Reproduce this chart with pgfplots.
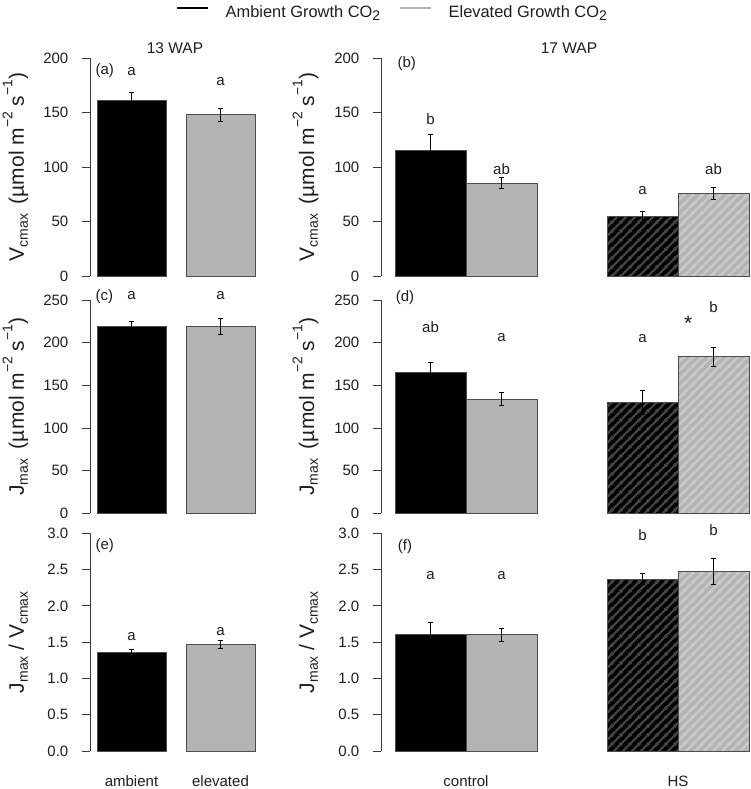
\documentclass[border=0pt]{standalone}
\usepackage{fontspec}
\setmainfont{Liberation Sans}
\usepackage{pgfplots}
\pgfplotsset{compat=1.18}
\usetikzlibrary{patterns}

\definecolor{bargray}{HTML}{B3B3B3}
\definecolor{edge}{HTML}{4D4D4D}
\definecolor{axcol}{HTML}{3A3A3A}
\definecolor{txt}{HTML}{1E1E1E}
\definecolor{hatchdark}{HTML}{424242}
\definecolor{hatchlight}{HTML}{C9C9C9}

\pgfdeclarepatternformonly{hatch}{\pgfqpoint{0pt}{0pt}}{\pgfqpoint{9pt}{9pt}}{\pgfqpoint{9pt}{9pt}}{%
  \pgfsetlinewidth{2.5pt}%
  \pgfpathmoveto{\pgfqpoint{-1pt}{-1pt}}\pgfpathlineto{\pgfqpoint{10pt}{10pt}}%
  \pgfpathmoveto{\pgfqpoint{-1.5pt}{7.5pt}}\pgfpathlineto{\pgfqpoint{1.5pt}{10.5pt}}%
  \pgfpathmoveto{\pgfqpoint{7.5pt}{-1.5pt}}\pgfpathlineto{\pgfqpoint{10.5pt}{1.5pt}}%
  \pgfusepath{stroke}}

\newcommand{\fs}[1]{\fontsize{#1}{#1}\selectfont}
\newcommand{\lsub}[1]{\raisebox{-0.35ex}{\fs{14}#1}}
\newcommand{\lsup}[1]{\raisebox{1.05ex}{\fs{14}#1}}

\tikzset{lab/.style={font=\fs{15}, text=txt}}

\pgfplotsset{
  panel/.style={
    scale only axis, anchor=south west, clip=false,
    axis x line=none, axis y line=left,
    axis line style={axcol, line width=0.8pt, -},
    tick align=outside, major tick length=8.5pt,
    ytick style={axcol, line width=0.8pt},
    yticklabel style={font=\fs{15}, text=txt, inner sep=0pt, xshift=-13pt},
    /pgf/number format/assume math mode=true,
    ymin=0,
  },
  bk/.style={ybar, /pgf/bar shift=0pt, fill=black, draw=edge, line width=0.8pt},
  gy/.style={ybar, /pgf/bar shift=0pt, fill=bargray, draw=edge, line width=0.8pt},
  bkh/.style={bk, postaction={pattern=hatch, pattern color=hatchdark}},
  gyh/.style={gy, postaction={pattern=hatch, pattern color=hatchlight}},
  err/.style={draw=none, mark=none, forget plot,
    error bars/.cd, y dir=both, y explicit,
    error bar style={draw=black, line width=0.9pt},
    error mark options={rotate=90, draw=black, line width=0.9pt, mark size=2.5pt}},
}

\begin{document}
\begin{tikzpicture}
\useasboundingbox (0pt,0pt) rectangle (750pt,789pt);

% ---------------- (a)
\begin{axis}[panel, at={(90pt,513pt)}, width=165pt, height=218pt,
  xmin=90, xmax=255, ymax=200, ytick={0,50,100,150,200}, bar width=69,
  legend style={at={(1.8273,1.2087)}, anchor=center, draw=none, fill=none,
    font=\fs{16.4}, text=txt, inner sep=0pt,
    /tikz/every odd column/.append style={column sep=16pt},
    /tikz/every even column/.append style={column sep=19pt},
    nodes={inner sep=0pt}},
  legend columns=2]
\addplot[bk, forget plot] coordinates {(131.5,161.5)};
\addplot[gy, forget plot] coordinates {(220.5,148)};
\addplot[err] coordinates {(131.5,161.5) +- (0,6.5) (220.5,148) +- (0,6)};
\addlegendimage{legend image code/.code={\draw[black, line width=2.5pt] (0pt,4.5pt) -- (31pt,4.5pt);}}
\addlegendentry{Ambient Growth CO\lsub{2}}
\addlegendimage{legend image code/.code={\draw[bargray, line width=2.5pt] (0pt,4.5pt) -- (31pt,4.5pt);}}
\addlegendentry{Elevated Growth CO\lsub{2}}
\node[lab, anchor=west] at (axis cs:92,188) {(a)};
\node[lab] at (axis cs:131.5,188) {a};
\node[lab] at (axis cs:220.5,178.5) {a};
\end{axis}

% ---------------- (b)
\begin{axis}[panel, at={(381pt,513pt)}, width=368pt, height=218pt,
  xmin=381, xmax=749, ymax=200, ytick={0,50,100,150,200}, bar width=71]
\addplot[bk] coordinates {(430.5,115)};
\addplot[gy] coordinates {(501.5,85)};
\addplot[bkh] coordinates {(642.5,54.5)};
\addplot[gyh] coordinates {(713.5,76)};
\addplot[err] coordinates {(430.5,115) +- (0,15) (501.5,85) +- (0,5) (642.5,54.5) +- (0,5) (713.5,76) +- (0,5.5)};
\node[lab, anchor=west] at (axis cs:394,195) {(b)};
\node[lab] at (axis cs:430.5,143.8) {b};
\node[lab] at (axis cs:501.5,97.7) {ab};
\node[lab] at (axis cs:642.5,78.6) {a};
\node[lab] at (axis cs:713.5,97.7) {ab};
\end{axis}

% ---------------- (c)
\begin{axis}[panel, at={(90pt,275.7pt)}, width=165pt, height=213.3pt,
  xmin=90, xmax=255, ymax=250, ytick={0,50,100,150,200,250}, bar width=69]
\addplot[bk] coordinates {(131.5,218.5)};
\addplot[gy] coordinates {(220.5,219)};
\addplot[err] coordinates {(131.5,218.5) +- (0,6) (220.5,219) +- (0,9)};
\node[lab, anchor=west] at (axis cs:92,254) {(c)};
\node[lab] at (axis cs:131.5,254.7) {a};
\node[lab] at (axis cs:220.5,254.7) {a};
\end{axis}

% ---------------- (d)
\begin{axis}[panel, at={(381pt,275.7pt)}, width=368pt, height=213.3pt,
  xmin=381, xmax=749, ymax=250, ytick={0,50,100,150,200,250}, bar width=71]
\addplot[bk] coordinates {(430.5,165)};
\addplot[gy] coordinates {(501.5,134)};
\addplot[bkh] coordinates {(642.5,130)};
\addplot[gyh] coordinates {(713.5,183.5)};
\addplot[err] coordinates {(430.5,165) +- (0,12) (501.5,134) +- (0,8) (642.5,130) +- (0,14) (713.5,183.5) +- (0,11)};
\node[lab, anchor=west] at (axis cs:392.3,253) {(d)};
\node[lab] at (axis cs:430.5,218) {ab};
\node[lab] at (axis cs:501.5,206) {a};
\node[lab] at (axis cs:642.5,205) {a};
\node[lab, font=\fs{21}] at (axis cs:688.3,223) {*};
\node[lab] at (axis cs:713.5,241.4) {b};
\end{axis}

% ---------------- (e)
\begin{axis}[panel, at={(90pt,38pt)}, width=165pt, height=217.7pt,
  xmin=90, xmax=255, ymax=3, ytick={0,0.5,1,1.5,2,2.5,3}, bar width=69,
  yticklabel style={/pgf/number format/.cd, fixed, fixed zerofill, precision=1}]
\addplot[bk] coordinates {(131.5,1.355)};
\addplot[gy] coordinates {(220.5,1.47)};
\addplot[err] coordinates {(131.5,1.355) +- (0,0.04) (220.5,1.47) +- (0,0.05)};
\node[lab, anchor=west] at (axis cs:92,2.835) {(e)};
\node[lab] at (axis cs:131.5,1.583) {a};
\node[lab] at (axis cs:220.5,1.64) {a};
\node[lab, anchor=base, yshift=-35.5pt] at (axis cs:131.5,0) {ambient};
\node[lab, anchor=base, yshift=-35.5pt] at (axis cs:220.5,0) {elevated};
\end{axis}

% ---------------- (f)
\begin{axis}[panel, at={(381pt,38pt)}, width=368pt, height=217.7pt,
  xmin=381, xmax=749, ymax=3, ytick={0,0.5,1,1.5,2,2.5,3}, bar width=71,
  yticklabel style={/pgf/number format/.cd, fixed, fixed zerofill, precision=1}]
\addplot[bk] coordinates {(430.5,1.603)};
\addplot[gy] coordinates {(501.5,1.60)};
\addplot[bkh] coordinates {(642.5,2.37)};
\addplot[gyh] coordinates {(713.5,2.475)};
\addplot[err] coordinates {(430.5,1.603) +- (0,0.17) (501.5,1.60) +- (0,0.095) (642.5,2.37) +- (0,0.07) (713.5,2.475) +- (0,0.18)};
\node[lab, anchor=west] at (axis cs:394.3,2.815) {(f)};
\node[lab] at (axis cs:430.5,2.415) {a};
\node[lab] at (axis cs:501.5,2.415) {a};
\node[lab] at (axis cs:642.5,2.977) {b};
\node[lab] at (axis cs:713.5,3.05) {b};
\node[lab, anchor=base, yshift=-35.5pt] at (axis cs:466,0) {control};
\node[lab, anchor=base, yshift=-35.5pt] at (axis cs:678,0) {HS};
\end{axis}

% titles
\node[font=\fs{15.5}, text=txt] at (175pt,741pt) {13 WAP};
\node[font=\fs{15.5}, text=txt] at (569pt,741pt) {17 WAP};

% y labels
\node[rotate=90, anchor=base, font=\fs{21}, text=txt] at (24pt,622pt) {V\lsub{cmax}\hspace{4pt} (µmol m\lsup{−2} s\lsup{−1})};
\node[rotate=90, anchor=base, font=\fs{21}, text=txt] at (314pt,622pt) {V\lsub{cmax}\hspace{4pt} (µmol m\lsup{−2} s\lsup{−1})};
\node[rotate=90, anchor=base, font=\fs{21}, text=txt] at (24pt,382.3pt) {J\lsub{max}\hspace{4pt} (µmol m\lsup{−2} s\lsup{−1})};
\node[rotate=90, anchor=base, font=\fs{21}, text=txt] at (314pt,382.3pt) {J\lsub{max}\hspace{4pt} (µmol m\lsup{−2} s\lsup{−1})};
\node[rotate=90, anchor=base, font=\fs{21}, text=txt] at (24pt,146.8pt) {J\lsub{max} / V\lsub{cmax}};
\node[rotate=90, anchor=base, font=\fs{21}, text=txt] at (314pt,146.8pt) {J\lsub{max} / V\lsub{cmax}};
\end{tikzpicture}
\end{document}
